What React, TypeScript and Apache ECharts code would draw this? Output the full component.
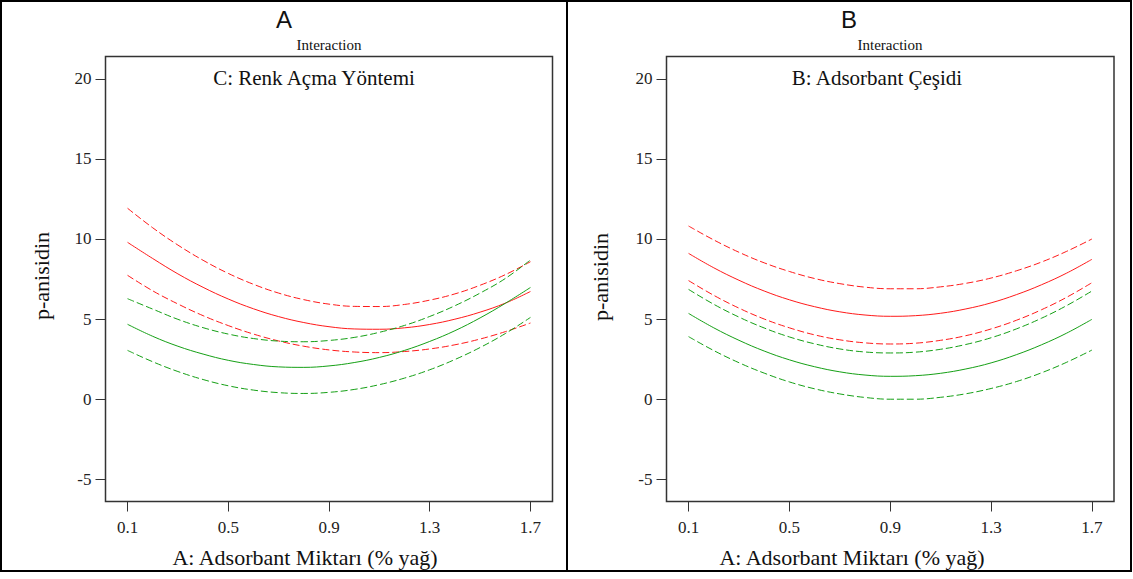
import React, { useEffect, useRef } from "react";
import * as echarts from "echarts";

// ---- data ----
const X_VALUES = [0.1, 0.2, 0.3, 0.4, 0.5, 0.6, 0.7, 0.8, 0.9, 1.0, 1.1, 1.2, 1.3, 1.4, 1.5, 1.6, 1.7];
const X_TICKS = [0.1, 0.5, 0.9, 1.3, 1.7];
const Y_TICKS = [-5, 0, 5, 10, 15, 20];

// Panel A: C: Renk Açma Yöntemi
const A_RED_UPPER = [11.92, 10.7, 9.62, 8.67, 7.85, 7.17, 6.62, 6.21, 5.93, 5.79, 5.78, 5.91, 6.18, 6.57, 7.11, 7.77, 8.58];
const A_RED_MEAN = [9.79, 8.78, 7.82, 6.98, 6.25, 5.64, 5.15, 4.78, 4.52, 4.38, 4.36, 4.45, 4.66, 4.99, 5.43, 5.99, 6.72];
const A_RED_LOWER = [7.73, 6.76, 5.94, 5.21, 4.59, 4.06, 3.63, 3.3, 3.07, 2.94, 2.9, 2.97, 3.13, 3.39, 3.75, 4.21, 4.75];
const A_GREEN_UPPER = [6.27, 5.62, 4.98, 4.46, 4.06, 3.78, 3.62, 3.58, 3.66, 3.85, 4.17, 4.6, 5.16, 5.83, 6.62, 7.53, 8.69];
const A_GREEN_MEAN = [4.67, 3.92, 3.3, 2.81, 2.42, 2.16, 2.01, 1.98, 2.07, 2.28, 2.6, 3.04, 3.6, 4.27, 5.07, 5.98, 6.97];
const A_GREEN_LOWER = [3.04, 2.33, 1.72, 1.22, 0.83, 0.56, 0.4, 0.35, 0.42, 0.6, 0.9, 1.31, 1.83, 2.47, 3.22, 4.09, 5.1];

// Panel B: B: Adsorbant Çeşidi
const B_RED_UPPER = [10.81, 9.94, 9.17, 8.51, 7.97, 7.53, 7.21, 6.99, 6.89, 6.89, 7.01, 7.23, 7.56, 8.01, 8.56, 9.23, 10.0];
const B_RED_MEAN = [9.1, 8.2, 7.42, 6.75, 6.2, 5.77, 5.45, 5.25, 5.17, 5.21, 5.36, 5.63, 6.01, 6.52, 7.14, 7.87, 8.73];
const B_RED_LOWER = [7.4, 6.48, 5.68, 5.0, 4.45, 4.01, 3.7, 3.51, 3.44, 3.49, 3.67, 3.96, 4.38, 4.92, 5.58, 6.36, 7.27];
const B_GREEN_UPPER = [6.85, 5.92, 5.12, 4.44, 3.88, 3.45, 3.13, 2.94, 2.88, 2.93, 3.11, 3.41, 3.83, 4.38, 5.05, 5.84, 6.75];
const B_GREEN_MEAN = [5.35, 4.45, 3.67, 3.0, 2.45, 2.02, 1.7, 1.5, 1.42, 1.46, 1.61, 1.88, 2.26, 2.77, 3.39, 4.12, 4.98];
const B_GREEN_LOWER = [3.9, 3.03, 2.27, 1.62, 1.07, 0.64, 0.32, 0.1, -0.01, -0.01, 0.11, 0.33, 0.66, 1.09, 1.64, 2.3, 3.06];

const RED = "#ff1a1a";
const GREEN = "#15a015";
const SERIF = "'Liberation Serif', 'Times New Roman', serif";
const SANS = "'Liberation Sans', Arial, sans-serif";

function line(name: string, values: number[], color: string, dashed: boolean, idx: number) {
  return {
    type: "line",
    name,
    xAxisIndex: idx,
    yAxisIndex: idx,
    data: X_VALUES.map((x, i) => [x, values[i]]),
    smooth: 0.4,
    symbol: "none",
    lineStyle: { color, width: 1, type: dashed ? [7, 3] : "solid" },
    silent: true,
  };
}

function xAxis(gridIndex: number) {
  return {
    type: "value",
    gridIndex,
    min: 0.0125,
    max: 1.7875,
    axisLine: { show: false, onZero: false },
    splitLine: { show: false },
    axisTick: { show: true, customValues: X_TICKS, length: 10, lineStyle: { color: "#333", width: 1 } },
    axisLabel: {
      customValues: X_TICKS,
      margin: 17,
      fontFamily: SERIF,
      fontSize: 17,
      color: "#222",
      formatter: (v: number) => v.toFixed(1),
    },
  };
}

function yAxis(gridIndex: number) {
  return {
    type: "value",
    gridIndex,
    min: -6.4,
    max: 21.4,
    axisLine: { show: false, onZero: false },
    splitLine: { show: false },
    axisTick: { show: true, customValues: Y_TICKS, length: 10, lineStyle: { color: "#333", width: 1 } },
    axisLabel: {
      customValues: Y_TICKS,
      margin: 14,
      fontFamily: SERIF,
      fontSize: 17,
      color: "#222",
      formatter: (v: number) => String(v),
    },
  };
}

function text(t: string, x: number, y: number, font: string, rotation = 0) {
  return {
    type: "text",
    x,
    y,
    rotation,
    silent: true,
    style: { text: t, font, fill: "#111", align: "center", verticalAlign: "middle" },
  };
}

export default function App() {
  const ref = useRef<HTMLDivElement>(null);
  useEffect(() => {
    if (!ref.current) return;
    const chart = echarts.init(ref.current, undefined, { renderer: "svg" });
    chart.setOption({
      animation: false,
      backgroundColor: "#ffffff",
      grid: [
        { left: 105.5, top: 56.5, width: 447, height: 445, show: true, borderColor: "#333", borderWidth: 1.5, backgroundColor: "transparent" },
        { left: 666.5, top: 56.5, width: 447.5, height: 445, show: true, borderColor: "#333", borderWidth: 1.5, backgroundColor: "transparent" },
      ],
      xAxis: [xAxis(0), xAxis(1)],
      yAxis: [yAxis(0), yAxis(1)],
      series: [
        line("A red upper", A_RED_UPPER, RED, true, 0),
        line("A red mean", A_RED_MEAN, RED, false, 0),
        line("A red lower", A_RED_LOWER, RED, true, 0),
        line("A green upper", A_GREEN_UPPER, GREEN, true, 0),
        line("A green mean", A_GREEN_MEAN, GREEN, false, 0),
        line("A green lower", A_GREEN_LOWER, GREEN, true, 0),
        line("B red upper", B_RED_UPPER, RED, true, 1),
        line("B red mean", B_RED_MEAN, RED, false, 1),
        line("B red lower", B_RED_LOWER, RED, true, 1),
        line("B green upper", B_GREEN_UPPER, GREEN, true, 1),
        line("B green mean", B_GREEN_MEAN, GREEN, false, 1),
        line("B green lower", B_GREEN_LOWER, GREEN, true, 1),
      ],
      graphic: [
        // outer frame and divider
        { type: "rect", silent: true, shape: { x: 1, y: 1, width: 1130, height: 570 }, style: { fill: "none", stroke: "#000", lineWidth: 2 } },
        { type: "line", silent: true, shape: { x1: 567, y1: 1, x2: 567, y2: 571 }, style: { stroke: "#000", lineWidth: 2 } },
        // panel A texts
        text("A", 284, 19, `24px ${SANS}`),
        text("Interaction", 329, 45, `15px ${SERIF}`),
        text("C: Renk Açma Yöntemi", 314, 78, `21px ${SERIF}`),
        text("A: Adsorbant Miktarı (% yağ)", 305, 557, `22px ${SERIF}`),
        text("p-anisidin", 41, 276, `22px ${SERIF}`, Math.PI / 2),
        // panel B texts
        text("B", 849, 19, `24px ${SANS}`),
        text("Interaction", 890, 45, `15px ${SERIF}`),
        text("B: Adsorbant Çeşidi", 877, 78, `21px ${SERIF}`),
        text("A: Adsorbant Miktarı (% yağ)", 852, 557, `22px ${SERIF}`),
        text("p-anisidin", 600, 277, `22px ${SERIF}`, Math.PI / 2),
      ],
    });
    return () => chart.dispose();
  }, []);
  return (
    <div
      ref={ref}
      style={{ position: "absolute", left: 0, top: 0, width: 1133, height: 579, background: "#fff" }}
    />
  );
}
